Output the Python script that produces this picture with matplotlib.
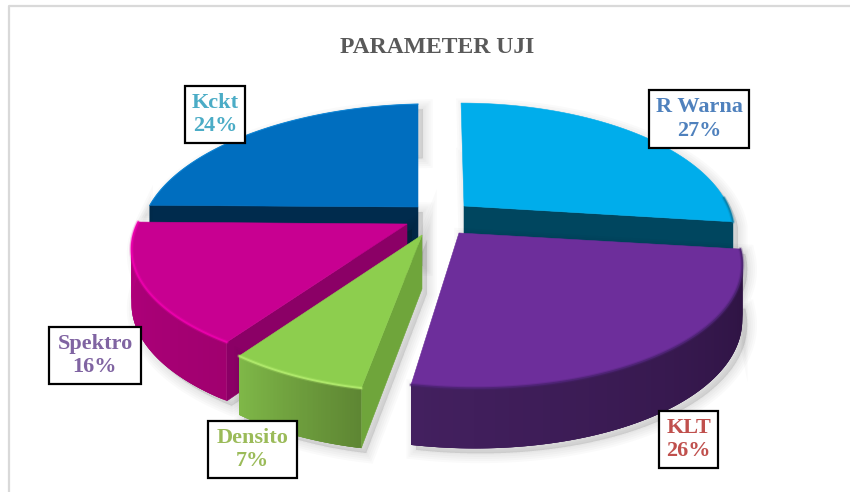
import numpy as np
import matplotlib
matplotlib.use("Agg")
import matplotlib.pyplot as plt
from matplotlib.patches import Polygon, Rectangle

# --- data ---
categories = ["R Warna", "KLT", "Densito", "Spektro", "Kckt"]
shares = [27, 26, 7, 16, 24]
title = "PARAMETER UJI"

# --- style / layout (per slice, pixel space) ---
apex_x = [464, 459, 422, 407, 418]
apex_y = [206, 233, 235, 224, 207]
radius = [264, 275, 262, 272, 272]
shear = [3.5, 13, 0, 10, 0]
shear_y = [0, 0, 0, -5.5, -6]
tilt = [123, 125, 126, 119, 123]
top_col = ["#00ADEB", "#6D2E9B", "#8DCE4E", "#C80091", "#006EBF"]
side_a = ["#00465F", "#2C1240", "#5E8633", "#A0006F", "#002B4D"]
side_b = ["#00465F", "#43205F", "#7FB848", "#B4007F", "#002B4D"]
face_col = ["#00465F", "#2C1240", "#6FA53B", "#8B0066", "#002B4D"]
rim_col = ["#0A7FA8", "#4A2270", "#B5EE70", "#F000B0", "#0A86D8"]
face_end = [1, None, 0, 0, 0]   # which cut edge shows a face
draw_order = [4, 0, 3, 1, 2]
label_col = ["#4F81BD", "#C0504D", "#9BBB59", "#8064A2", "#4BACC6"]
box_xywh = [(649, 90, 100, 58), (659, 411, 59, 57), (208, 421, 89, 57),
            (49, 327, 92, 57), (185, 86, 60, 57)]
PERSP, DEPTH = 0.195, 54.0

plt.rcParams["font.family"] = ["Liberation Serif", "DejaVu Serif"]
fig = plt.figure(figsize=(8.5, 4.92), dpi=100, facecolor="white")
ax = fig.add_axes([0, 0, 1, 1])
ax.set_xlim(0, 850)
ax.set_ylim(492, 0)
ax.axis("off")

# chart frame
ax.plot([9, 9, 850], [492, 6, 6], color="#D9D9D9", lw=1.6, zorder=1)


def project(i, theta, drop=0.0):
    x, y = np.sin(theta), -np.cos(theta)
    s = 1.0 / (1.0 - PERSP * y)
    return (apex_x[i] + (radius[i] * x + shear[i] * y) * s,
            apex_y[i] + (tilt[i] * y + shear_y[i] * x) * s + drop * np.sqrt(s))


def apex(i, drop=0.0):
    return np.array([apex_x[i], apex_y[i] + drop])


def lerp(c1, c2, t):
    a = np.array(matplotlib.colors.to_rgb(c1))
    b = np.array(matplotlib.colors.to_rgb(c2))
    return tuple(a + (b - a) * t)


cum = np.cumsum([0] + shares) / sum(shares) * 2 * np.pi
z = 2.0
for i in draw_order:
    t = np.linspace(cum[i], cum[i + 1], 80)
    tx, ty = project(i, t)
    bx, by = project(i, t, DEPTH)
    a0, a1 = apex(i), apex(i, DEPTH)

    # soft shadow of the silhouette
    sil = np.vstack([[a0], np.column_stack([tx, ty]),
                     np.column_stack([bx, by])[::-1], [a1]])
    for lw in (14, 11, 8, 5, 2):
        ax.add_patch(Polygon(sil + [5, 5], closed=True, fc=(0, 0, 0, 0.02),
                             ec=(0, 0, 0, 0.02), lw=lw, zorder=z))
    z += 0.1

    # cut face
    if face_end[i] is not None:
        th = cum[i + face_end[i]]
        px, py = project(i, th)
        qx, qy = project(i, th, DEPTH)
        ax.add_patch(Polygon([a0, (px, py), (qx, qy), a1], closed=True,
                             fc=face_col[i], ec=face_col[i], lw=0.4, zorder=z))
        z += 0.1

    # outer wall with a gradient along the arc; each quad runs under the next one
    idx = np.where(-np.cos(t) > -0.08)[0]
    for n, j in enumerate(idx[:-1]):
        k = idx[min(n + 3, len(idx) - 1)]
        c = lerp(side_a[i], side_b[i], n / max(len(idx) - 2, 1))
        ax.add_patch(Polygon([(tx[j], ty[j]), (tx[k], ty[k]), (bx[k], by[k]), (bx[j], by[j])],
                             closed=True, fc=c, ec="none", zorder=z))
        z += 0.001
    z += 0.1

    # top surface
    ax.add_patch(Polygon(np.vstack([[a0], np.column_stack([tx, ty])]), closed=True,
                         fc=top_col[i], ec=top_col[i], lw=0.4, zorder=z))
    z += 0.1

    # bevel on the rim
    if len(idx) > 1:
        ax.plot(tx[idx], ty[idx], color=rim_col[i], lw=3, alpha=0.25,
                solid_capstyle="round", zorder=z)
        ax.plot(tx[idx], ty[idx], color=rim_col[i], lw=1.4, alpha=0.8,
                solid_capstyle="round", zorder=z)
    else:
        ax.plot(tx, ty, color=rim_col[i], lw=0.8, alpha=0.8, zorder=z)
    z += 0.1

ax.text(437.5, 47.5, title, ha="center", va="center", fontsize=17,
        fontweight="bold", color="#595959", zorder=50)

for i, cat in enumerate(categories):
    x, y, w, h = box_xywh[i]
    ax.add_patch(Rectangle((x, y), w, h, fc="white", ec="black", lw=1.6, zorder=60))
    ax.text(x + w / 2, y + h / 2, f"{cat}\n{shares[i]}%", ha="center", va="center",
            fontsize=16, fontweight="bold", color=label_col[i], linespacing=1.2, zorder=61)

fig.savefig("out.png", dpi=100, facecolor="white")
